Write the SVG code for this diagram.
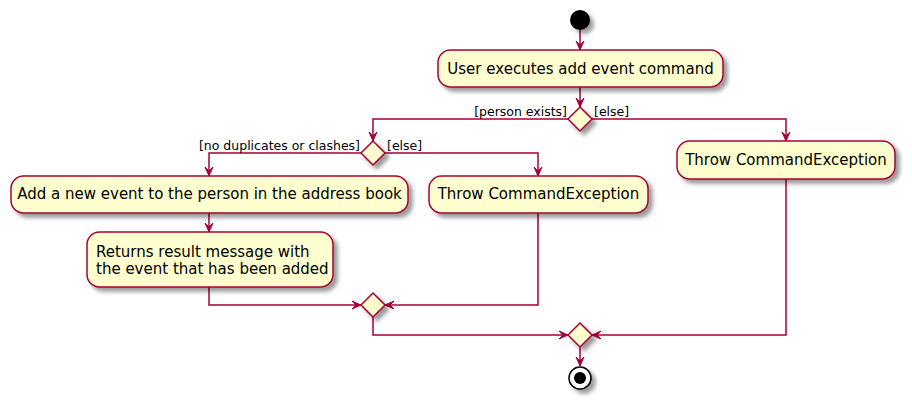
<svg xmlns="http://www.w3.org/2000/svg" width="912" height="405" viewBox="0 0 912 405">
<defs>
<filter id="sh" x="-20%" y="-20%" width="150%" height="160%">
<feGaussianBlur in="SourceAlpha" stdDeviation="2"/>
<feOffset dx="4" dy="4" result="b"/>
<feComponentTransfer in="b" result="c"><feFuncA type="linear" slope="0.4"/></feComponentTransfer>
<feMerge><feMergeNode in="c"/><feMergeNode in="SourceGraphic"/></feMerge>
</filter>
<marker id="ah" markerWidth="10" markerHeight="10" viewBox="0 0 10 10" refX="9" refY="5" orient="auto" markerUnits="userSpaceOnUse">
<path d="M0,1 L9,5 L0,9 L4,5 Z" fill="#A80036" stroke="#A80036" stroke-width="1"/>
</marker>
</defs>
<style>
.box{fill:#FEFECE;stroke:#A80036;stroke-width:1.5;filter:url(#sh)}
.dia{fill:#FEFECE;stroke:#A80036;stroke-width:1.5;filter:url(#sh)}
.t{font-family:"DejaVu Sans",sans-serif;font-size:15px;fill:#000}
.l{font-family:"DejaVu Sans",sans-serif;font-size:12.5px;fill:#000}
.c{fill:none;stroke:#A80036;stroke-width:1.5;marker-end:url(#ah)}
</style>
<g id="connectors">
<path class="c" d="M580,30 L580,50"/>
<path class="c" d="M580,87 L580,107"/>
<path class="c" d="M568,119 L373,119 L373,141"/>
<path class="c" d="M592,119 L786,119 L786,141"/>
<path class="c" d="M361,153 L209,153 L209,176"/>
<path class="c" d="M385,153 L538,153 L538,176"/>
<path class="c" d="M209,213 L209,232"/>
<path class="c" d="M209,287 L209,305 L361,305"/>
<path class="c" d="M538,213 L538,305 L385,305"/>
<path class="c" d="M373,317 L373,335 L568,335"/>
<path class="c" d="M786,179 L786,335 L592,335"/>
<path class="c" d="M580,347 L580,366"/>
</g>
<g id="start"><circle cx="580" cy="20" r="10" fill="#000" filter="url(#sh)"/></g>
<g id="n1"><rect class="box" x="438" y="50" width="285" height="37" rx="12.5"/><text class="t" x="580.5" y="74" text-anchor="middle">User executes add event command</text></g>
<g id="d1"><polygon class="dia" points="580,107 592,119 580,131 568,119"/>
<text class="l" x="567" y="116" text-anchor="end">[person exists]</text>
<text class="l" x="594" y="116">[else]</text></g>
<g id="d2"><polygon class="dia" points="373,141 385,153 373,165 361,153"/>
<text class="l" x="360" y="150" text-anchor="end">[no duplicates or clashes]</text>
<text class="l" x="387" y="150">[else]</text></g>
<g id="n2"><rect class="box" x="11" y="176" width="397" height="37" rx="12.5"/><text class="t" x="209.5" y="199" text-anchor="middle">Add a new event to the person in the address book</text></g>
<g id="n3"><rect class="box" x="87" y="232" width="246" height="55" rx="12.5"/><text class="t" x="96" y="257">Returns result message with</text><text class="t" x="96" y="274">the event that has been added</text></g>
<g id="n4"><rect class="box" x="429" y="176" width="219" height="37" rx="12.5"/><text class="t" x="538.5" y="199" text-anchor="middle">Throw CommandException</text></g>
<g id="n5"><rect class="box" x="677" y="141" width="218" height="38" rx="12.5"/><text class="t" x="786" y="165" text-anchor="middle">Throw CommandException</text></g>
<g id="d3"><polygon class="dia" points="373,293 385,305 373,317 361,305"/></g>
<g id="d4"><polygon class="dia" points="580,323 592,335 580,347 568,335"/></g>
<g id="end"><circle cx="580" cy="378" r="11" fill="#fff" stroke="#000" stroke-width="1.5" filter="url(#sh)"/><circle cx="580" cy="378" r="6" fill="#000"/></g>
</svg>
